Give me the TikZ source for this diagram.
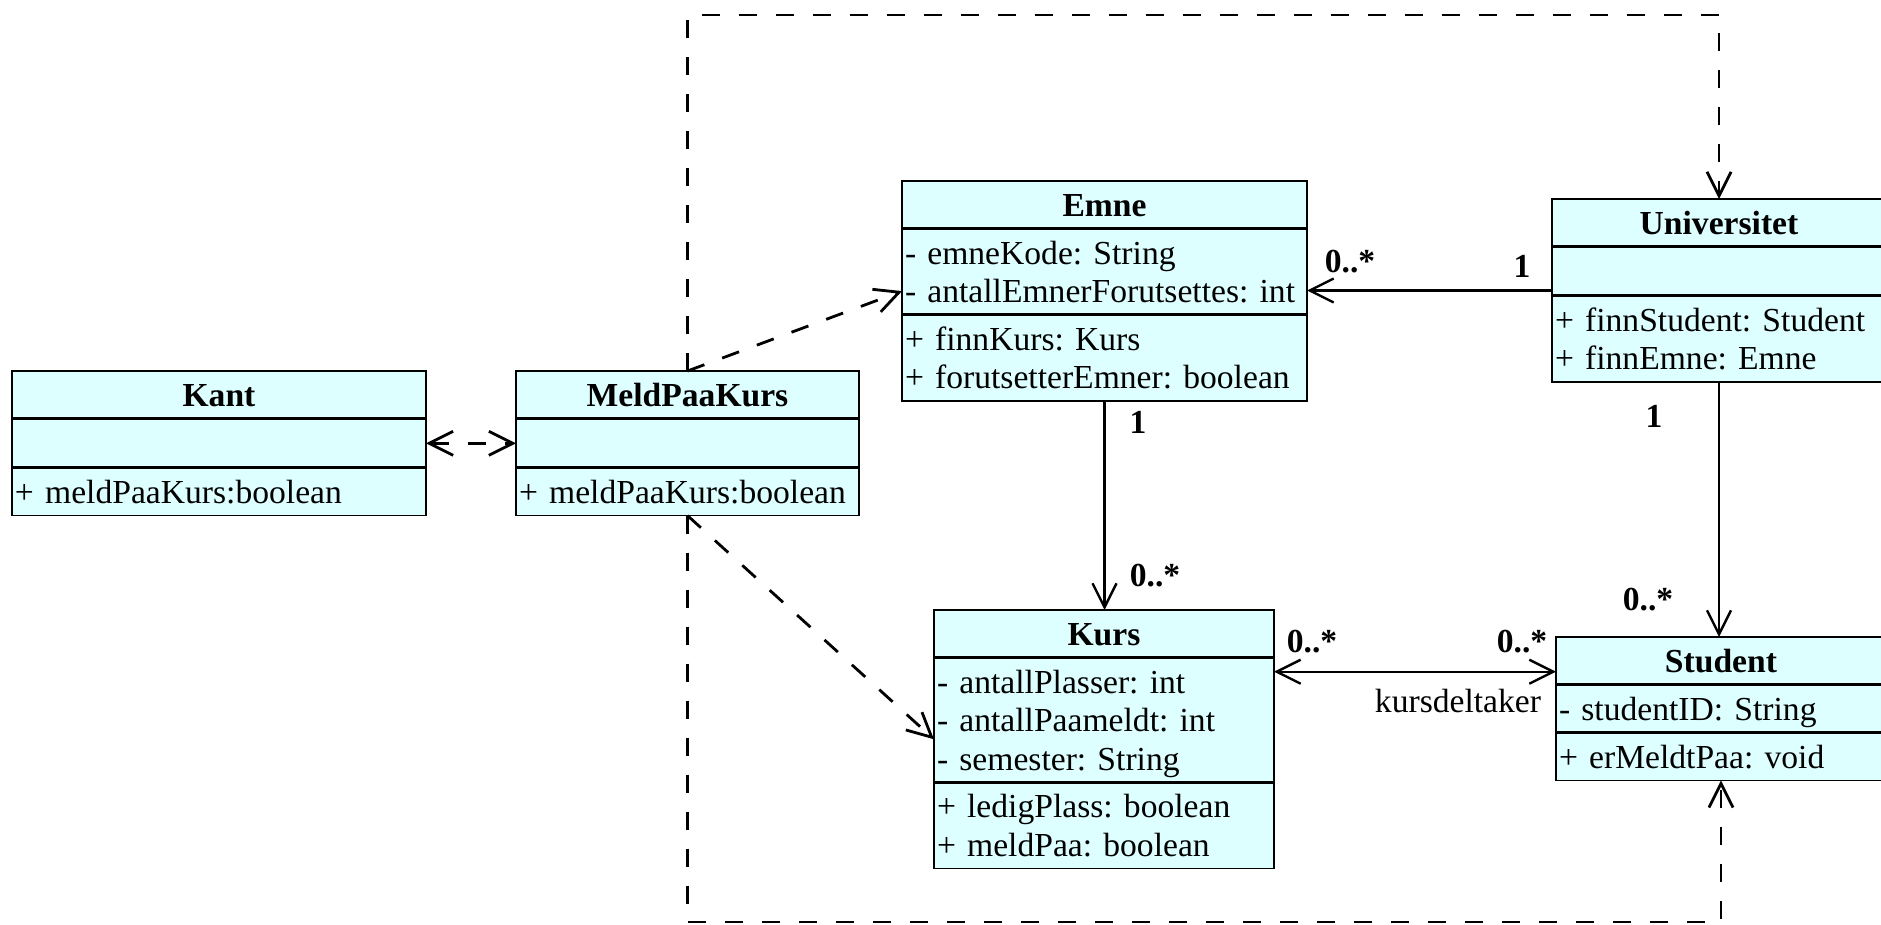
\documentclass[tikz,border=0pt]{standalone}
\usepackage{fontspec}
\setmainfont{Liberation Serif}
\usetikzlibrary{shapes.multipart,arrows.meta}
\setlength{\parindent}{0pt}
\frenchspacing
\newcommand{\rowstrut}{\rule[-3.8pt]{0pt}{19.2pt}}

\definecolor{clsfill}{RGB}{221,255,255}

\tikzset{
  umlclass/.style={rectangle split, rectangle split parts=3,
    rectangle split draw splits=false, draw=black, line width=0.7pt,
    fill=clsfill, inner xsep=1.5pt, inner ysep=2pt, outer sep=0pt,
    anchor=north west, font=\fontsize{16.8}{19.2}\selectfont},
  splitline/.style={line width=1.5pt},
  assoc/.style={line width=1.2pt, ->},
  depend/.style={line width=1.4pt, dash pattern=on 9pt off 9.5pt, ->},
  mult/.style={font=\fontsize{16.8}{19.2}\selectfont\bfseries, inner sep=0pt},
  role/.style={font=\fontsize{16.8}{19.2}\selectfont, inner sep=0pt},
  >={Straight Barb[length=12pt,width=12pt]}
}

\begin{document}
\begin{tikzpicture}[x=0.5pt,y=-0.5pt]

\useasboundingbox (0,0) rectangle (1881,925);
\clip (0,0) rectangle (1881,925);

% Classes
\node[umlclass, text width=204pt] (kant) at (12,371)
  {\centering\textbf{Kant}\rowstrut\par
   \nodepart{two}\rule{0pt}{19.8pt}
   \nodepart{three}\raggedright + meldPaaKurs:boolean\rowstrut\par};
\node[umlclass, text width=168.5pt] (meld) at (516,371)
  {\centering\textbf{MeldPaaKurs}\rowstrut\par
   \nodepart{two}\rule{0pt}{19.8pt}
   \nodepart{three}\raggedright + meldPaaKurs:boolean\rowstrut\par};
\node[umlclass, text width=199.5pt] (emne) at (902,181)
  {\centering\textbf{Emne}\rowstrut\par
   \nodepart{two}\raggedright - emneKode: String\rowstrut\\
     - antallEmnerForutsettes: int\rowstrut\par
   \nodepart{three}\raggedright + finnKurs: Kurs\rowstrut\\
     + forutsetterEmner: boolean\rowstrut\par};
\node[umlclass, text width=164pt] (univ) at (1552,199)
  {\centering\textbf{Universitet}\rowstrut\par
   \nodepart{two}\rule{0pt}{19.8pt}
   \nodepart{three}\raggedright + finnStudent: Student\rowstrut\\
     + finnEmne: Emne\rowstrut\par};
\node[umlclass, text width=167pt] (kurs) at (934,610)
  {\centering\textbf{Kurs}\rowstrut\par
   \nodepart{two}\raggedright - antallPlasser: int\rowstrut\\
     - antallPaameldt: int\rowstrut\\
     - semester: String\rowstrut\par
   \nodepart{three}\raggedright + ledigPlass: boolean\rowstrut\\
     + meldPaa: boolean\rowstrut\par};
\node[umlclass, text width=162pt] (student) at (1556,637)
  {\centering\textbf{Student}\rowstrut\par
   \nodepart{two}\raggedright - studentID: String\rowstrut\par
   \nodepart{three}\raggedright + erMeldtPaa: void\rowstrut\par};

% Compartment lines
\foreach \c in {kant,meld,emne,univ,kurs,student} {
  \draw[splitline] (\c.text split west) -- (\c.text split east);
  \draw[splitline] (\c.two split west) -- (\c.two split east);
}

% Associations
\draw[assoc] (univ.west) -- (univ.west -| emne.east);
\draw[assoc] (emne.south) -- (emne.south |- kurs.north);
\draw[assoc] (univ.south) -- (univ.south |- student.north);
\draw[assoc, <->] ([yshift=18.5pt]student.west) -- ([yshift=18.5pt]student.west -| kurs.east);

% Dependencies
\coordinate (topline) at (0,15);
\coordinate (botline) at (0,922);
\draw[depend] (meld.north) -- (meld.north |- topline) -| (univ.north);
\draw[depend] (meld.south) -- (meld.south |- botline) -| (student.south);
\draw[depend] (meld.north) -- (emne.west);
\draw[depend] (meld.south) -- (kurs.west);
\draw[depend, <->] (kant.east) -- (meld.west);

% Multiplicities
\node[mult] (m1) at (1350,262) {0..*};
\node[mult] (m2) at (1522,266) {1};
\node[mult] (m3) at (1138,422) {1};
\node[mult] (m4) at (1155,576) {0..*};
\node[mult] (m5) at (1654,416) {1};
\node[mult] (m6) at (1648,600) {0..*};
\node[mult] (m7) at (1312,642) {0..*};
\node[mult] (m8) at (1522,642) {0..*};
\node[role] (kd) at (1458,701) {kursdeltaker};

\end{tikzpicture}
\end{document}
